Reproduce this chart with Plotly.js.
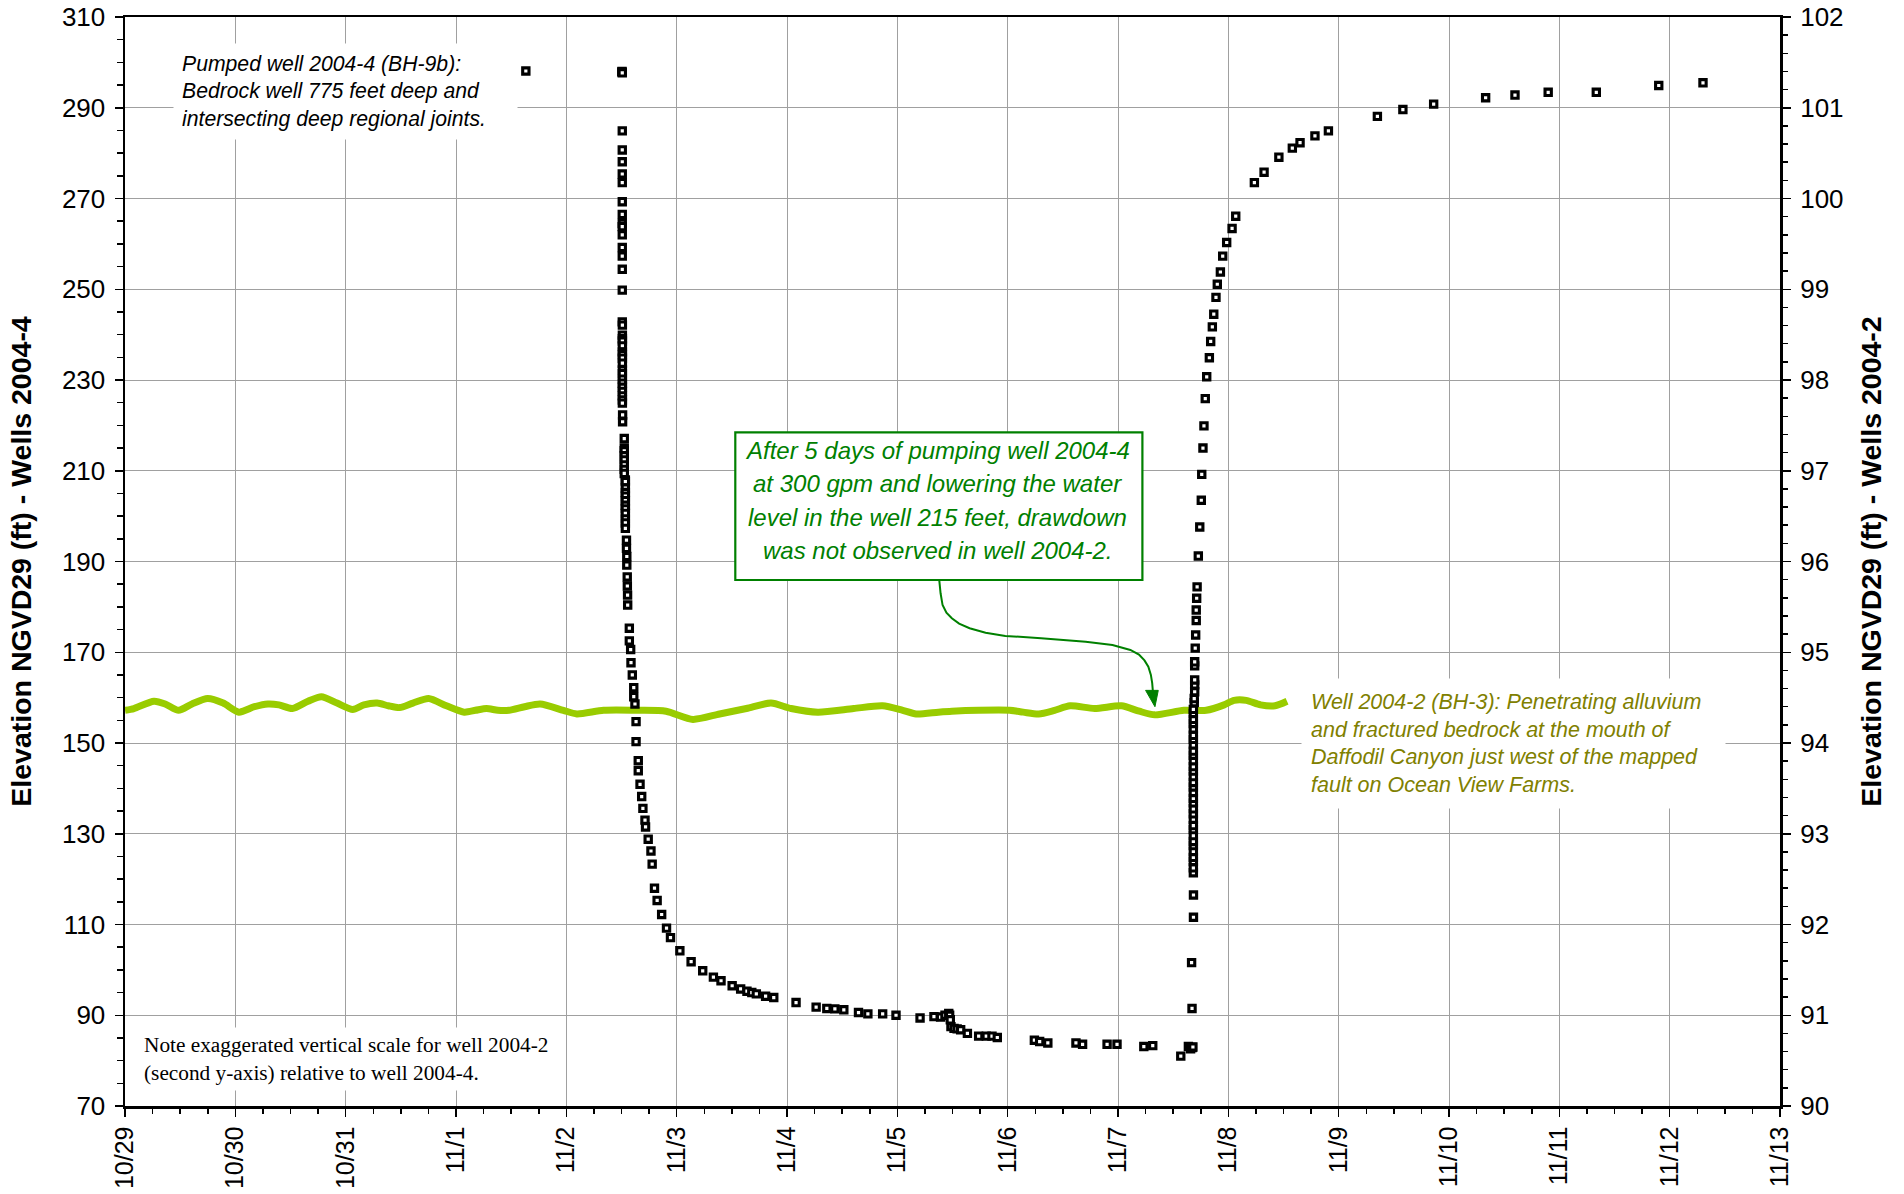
<!DOCTYPE html>
<html>
<head>
<meta charset="utf-8">
<script src="https://cdn.plot.ly/plotly-3.0.1.min.js"></script>
<style>
  html, body { margin: 0; padding: 0; background: #ffffff; }
  #chart { width: 1904px; height: 1194px; }
</style>
</head>
<body>
<div id="chart"></div>
<script>
// Time axis: days elapsed since 10/29 00:00
const dayTicks  = [0, 1, 2, 3, 4, 5, 6, 7, 8, 9, 10, 11, 12, 13, 14, 15];
const dayLabels = ['10/29', '10/30', '10/31', '11/1', '11/2', '11/3', '11/4', '11/5',
                   '11/6', '11/7', '11/8', '11/9', '11/10', '11/11', '11/12', '11/13'];

// Observation well 2004-2 (BH-3), water level elevation in ft NGVD29 (right axis)
const obsDay = [0.000, 0.081, 0.263, 0.364, 0.486, 0.607, 0.749, 0.890, 1.032, 1.173,
                1.295, 1.396, 1.517, 1.659, 1.780, 1.922, 2.064, 2.165, 2.286, 2.387,
                2.489, 2.610, 2.752, 2.913, 3.075, 3.176, 3.277, 3.379, 3.480, 3.622,
                3.763, 3.973, 4.095, 4.338, 4.661, 4.904, 5.147, 5.389, 5.632, 5.855,
                6.037, 6.280, 6.604, 6.866, 7.049, 7.170, 7.372, 7.494, 7.737, 8.019,
                8.141, 8.282, 8.425, 8.566, 8.788, 9.031, 9.193, 9.334, 9.597, 9.800,
                9.962, 10.052, 10.162, 10.292, 10.423, 10.532];
const obsElev = [94.36, 94.38, 94.46, 94.43, 94.36, 94.43, 94.49, 94.44, 94.34, 94.40,
                 94.43, 94.42, 94.38, 94.46, 94.51, 94.44, 94.37, 94.42, 94.44, 94.41,
                 94.39, 94.44, 94.49, 94.41, 94.34, 94.36, 94.38, 94.36, 94.36, 94.40,
                 94.43, 94.36, 94.32, 94.36, 94.36, 94.35, 94.26, 94.32, 94.38, 94.44,
                 94.38, 94.34, 94.38, 94.41, 94.36, 94.32, 94.34, 94.35, 94.36, 94.36,
                 94.34, 94.32, 94.36, 94.41, 94.38, 94.41, 94.35, 94.31, 94.36, 94.36,
                 94.42, 94.47, 94.47, 94.42, 94.41, 94.46];

// Pumped well 2004-4 (BH-9b), water level elevation in ft NGVD29 (left axis)
const pumpedDay = [
  3.633, 4.503, 4.505, 4.507, 4.507, 4.507, 4.507, 4.507, 4.507, 4.507,
  4.507, 4.507, 4.507, 4.507, 4.507, 4.507, 4.507, 4.507, 4.507, 4.508,
  4.508, 4.508, 4.508, 4.508, 4.508, 4.508, 4.508, 4.508, 4.508, 4.508,
  4.508, 4.508, 4.508, 4.508, 4.508, 4.508, 4.508, 4.510, 4.510, 4.525,
  4.525, 4.525, 4.525, 4.525, 4.525, 4.525, 4.525, 4.535, 4.535, 4.535,
  4.535, 4.535, 4.535, 4.535, 4.535, 4.535, 4.535, 4.535, 4.535, 4.545,
  4.545, 4.548, 4.548, 4.552, 4.553, 4.555, 4.556, 4.571, 4.571, 4.583,
  4.586, 4.598, 4.611, 4.611, 4.622, 4.632, 4.632, 4.652, 4.652, 4.668,
  4.683, 4.694, 4.713, 4.718, 4.742, 4.767, 4.778, 4.799, 4.823, 4.864,
  4.908, 4.944, 5.029, 5.131, 5.236, 5.333, 5.402, 5.503, 5.580, 5.637,
  5.681, 5.722, 5.806, 5.880, 6.082, 6.264, 6.361, 6.434, 6.515, 6.648,
  6.733, 6.867, 6.988, 7.206, 7.332, 7.392, 7.432, 7.466, 7.474, 7.480,
  7.486, 7.514, 7.542, 7.574, 7.635, 7.737, 7.806, 7.858, 7.906, 8.242,
  8.290, 8.364, 8.619, 8.679, 8.901, 8.991, 9.234, 9.315, 9.569, 9.638,
  9.658, 9.672, 9.679, 9.671, 9.667, 9.684, 9.684, 9.683, 9.683, 9.683,
  9.683, 9.683, 9.683, 9.683, 9.683, 9.683, 9.683, 9.683, 9.683, 9.683,
  9.683, 9.683, 9.683, 9.683, 9.683, 9.683, 9.683, 9.683, 9.683, 9.683,
  9.683, 9.683, 9.683, 9.683, 9.683, 9.683, 9.683, 9.683, 9.683, 9.691,
  9.691, 9.695, 9.695, 9.695, 9.695, 9.695, 9.700, 9.704, 9.709, 9.709,
  9.713, 9.717, 9.728, 9.741, 9.755, 9.759, 9.770, 9.779, 9.791, 9.804,
  9.828, 9.840, 9.855, 9.868, 9.888, 9.900, 9.928, 9.949, 9.985, 10.034,
  10.067, 10.236, 10.324, 10.458, 10.580, 10.650, 10.785, 10.907, 11.351, 11.582,
  11.861, 12.332, 12.598, 12.899, 13.335, 13.901, 14.302
];
const pumpedElev = [
  298.1, 297.9, 298.0, 297.7, 284.9, 280.7, 278.1, 275.4, 273.5, 269.3,
  266.5, 264.5, 263.8, 262.0, 259.2, 257.3, 254.4, 249.8, 242.8, 242.1,
  239.9, 239.1, 238.6, 237.5, 236.2, 235.6, 234.8, 233.7, 232.2, 231.4,
  230.2, 229.3, 228.4, 227.5, 226.5, 225.6, 224.9, 222.3, 220.8, 217.1,
  215.0, 214.4, 213.3, 212.4, 211.3, 210.3, 209.4, 208.0, 207.6, 206.2,
  205.2, 204.4, 203.4, 202.4, 201.6, 200.6, 199.4, 198.5, 197.3, 194.7,
  192.9, 191.1, 189.2, 186.6, 184.6, 182.6, 180.4, 175.3, 172.5, 170.6,
  167.7, 165.0, 162.2, 160.2, 158.6, 154.7, 150.3, 146.1, 143.9, 140.9,
  138.2, 135.6, 133.0, 131.5, 128.8, 126.2, 123.3, 118.0, 115.3, 112.2,
  109.2, 107.1, 104.2, 101.8, 99.8, 98.4, 97.6, 96.5, 95.8, 95.3,
  95.0, 94.7, 94.2, 93.9, 92.8, 91.8, 91.5, 91.4, 91.2, 90.6,
  90.3, 90.3, 90.0, 89.4, 89.7, 89.6, 90.0, 90.4, 90.0, 89.0,
  87.5, 87.1, 87.0, 86.8, 86.0, 85.4, 85.4, 85.4, 85.1, 84.5,
  84.2, 83.9, 83.9, 83.6, 83.6, 83.6, 83.1, 83.3, 81.0, 83.1,
  82.6, 82.9, 83.0, 91.5, 101.6, 111.6, 116.5, 121.4, 122.5, 123.9,
  124.8, 126.1, 127.4, 128.3, 129.6, 130.9, 131.8, 133.2, 134.4, 135.5,
  136.8, 137.8, 139.1, 140.3, 141.3, 142.6, 143.8, 144.8, 146.1, 147.3,
  148.2, 149.6, 150.8, 151.7, 153.1, 154.3, 155.2, 156.5, 157.4, 158.9,
  159.8, 161.3, 162.8, 163.9, 167.0, 167.9, 170.9, 173.8, 177.0, 179.3,
  181.9, 184.4, 191.2, 197.6, 203.5, 209.2, 215.0, 219.9, 225.9, 230.7,
  234.9, 238.5, 241.7, 244.5, 248.2, 251.1, 253.8, 257.3, 260.3, 263.4,
  266.1, 273.5, 275.8, 279.1, 281.1, 282.3, 283.8, 284.9, 288.1, 289.6,
  290.8, 292.2, 292.8, 293.4, 293.4, 294.9, 295.5
];

// Text blocks
const pumpedNote = ['Pumped well 2004-4 (BH-9b):', 'Bedrock well 775 feet deep and',
                    'intersecting deep regional joints.'];
const observedNote = ['Well 2004-2 (BH-3): Penetrating alluvium', 'and fractured bedrock at the mouth of',
                      'Daffodil Canyon just west of the mapped', 'fault on Ocean View Farms.'];
const scaleNote = ['Note exaggerated vertical scale for well 2004-2',
                   '(second y-axis) relative to well 2004-4.'];
const calloutLines = ['After 5 days of pumping well 2004-4', 'at 300 gpm and lowering the water',
                      'level in the well 215 feet, drawdown', 'was not observed in well 2004-2.'];

// Plot frame in pixels, used to place the notes
const plotLeft = 125, plotTop = 17, plotW = 1655, plotH = 1089;
const px = v => (v - plotLeft) / plotW;
const py = v => (plotTop + plotH - v) / plotH;

const SANS = 'Liberation Sans, Arial, sans-serif';
const SERIF = 'Liberation Serif, Times New Roman, serif';
const GRID = '#a0a0a0';
const CALLOUT = '#008000';
const OLIVE = '#808000';

const traces = [
  {
    x: obsDay, y: obsElev, xaxis: 'x', yaxis: 'y',
    type: 'scatter', mode: 'lines', name: 'Well 2004-2',
    line: { color: '#99cc00', width: 7, shape: 'spline', smoothing: 0.7 },
    hoverinfo: 'skip'
  },
  {
    x: pumpedDay, y: pumpedElev, xaxis: 'x', yaxis: 'y2',
    type: 'scatter', mode: 'markers', name: 'Well 2004-4',
    marker: { symbol: 'square', size: 6.3, color: '#ffffff', line: { color: '#000000', width: 3.1 } },
    hoverinfo: 'skip'
  }
];

const tickBase = { ticks: 'outside', tickcolor: '#000', tickwidth: 1.5, showline: true,
                   linecolor: '#000', linewidth: 2.5, zeroline: false, automargin: false };

const layout = {
  width: 1904, height: 1194,
  margin: { l: 125, r: 124, t: 17, b: 88, pad: 0 },
  paper_bgcolor: '#ffffff', plot_bgcolor: '#ffffff',
  showlegend: false,
  font: { family: SANS, color: '#000', size: 24 },
  xaxis: Object.assign({}, tickBase, {
    range: [0, 15], tickmode: 'array', tickvals: dayTicks, ticktext: dayLabels,
    tickangle: -90, tickfont: { size: 25, family: SANS }, ticklen: 8,
    mirror: true, showgrid: true, gridcolor: GRID, gridwidth: 1,
    minor: { dtick: 0.25, ticks: 'outside', ticklen: 5.5, tickwidth: 1.5, tickcolor: '#000', showgrid: false }
  }),
  yaxis: Object.assign({}, tickBase, {
    side: 'right', range: [90, 102], tick0: 90, dtick: 1, ticklen: 8.5,
    tickfont: { size: 26, family: SANS }, ticklabelstandoff: 4,
    showgrid: true, gridcolor: GRID, gridwidth: 1,
    minor: { dtick: 0.2, ticks: 'outside', ticklen: 5.5, tickwidth: 1.5, tickcolor: '#000', showgrid: false },
    title: { text: 'Elevation NGVD29 (ft) - Wells 2004-2', standoff: 19,
             font: { size: 28.5, family: SANS, weight: 'bold', color: '#000' } }
  }),
  yaxis2: Object.assign({}, tickBase, {
    overlaying: 'y', side: 'left', range: [70, 310], tick0: 70, dtick: 20, ticklen: 8,
    tickfont: { size: 26, family: SANS }, ticklabelstandoff: 4,
    showgrid: false,
    minor: { dtick: 5, ticks: 'outside', ticklen: 5.5, tickwidth: 1.5, tickcolor: '#000', showgrid: false },
    title: { text: 'Elevation NGVD29 (ft) - Wells 2004-4', standoff: 22,
             font: { size: 28.5, family: SANS, weight: 'bold', color: '#000' } }
  }),
  shapes: [
    // callout frame
    { type: 'rect', xref: 'paper', yref: 'paper', layer: 'above',
      x0: px(735.3), x1: px(1142.4), y0: py(580), y1: py(432.3),
      line: { color: CALLOUT, width: 2.2 }, fillcolor: '#ffffff' },
    // curved leader from the callout to the observation trace (x in days, y in ft of well 2004-4)
    { type: 'path', xref: 'x', yref: 'y2', layer: 'above',
      path: 'M 7.380,185.9 L 7.392,183.0 L 7.410,180.4 L 7.445,178.7 L 7.494,177.5 L 7.560,176.3 ' +
            'L 7.655,175.3 L 7.800,174.3 L 7.979,173.6 L 8.303,173.1 L 8.707,172.3 L 8.950,171.6 ' +
            'L 9.112,170.5 L 9.190,169.5 L 9.240,168.2 L 9.275,166.8 L 9.298,165.0 L 9.310,163.2 L 9.316,161.4',
      line: { color: CALLOUT, width: 2 } },
    { type: 'path', xref: 'x', yref: 'y2', layer: 'above',
      path: 'M 9.250,161.6 L 9.365,161.6 L 9.335,158.0 Z',
      line: { color: CALLOUT, width: 1 }, fillcolor: CALLOUT }
  ],
  annotations: []
};

layout.annotations.push({
  xref: 'paper', yref: 'paper', x: px(173), y: py(43), xanchor: 'left', yanchor: 'top',
  text: pumpedNote.join('<br>'), showarrow: false, align: 'left', valign: 'middle',
  width: 327, height: 79, borderpad: 8, bgcolor: '#ffffff',
  font: { family: SANS, size: 21.2, style: 'italic', color: '#000' }
});
layout.annotations.push({
  xref: 'paper', yref: 'paper', x: px(1301), y: py(678), xanchor: 'left', yanchor: 'top',
  text: observedNote.join('<br>'), showarrow: false, align: 'left', valign: 'middle',
  width: 405, height: 111, borderpad: 9, bgcolor: '#ffffff',
  font: { family: SANS, size: 21.5, style: 'italic', color: OLIVE }
});
layout.annotations.push({
  xref: 'paper', yref: 'paper', x: px(140), y: py(1026.7), xanchor: 'left', yanchor: 'top',
  text: scaleNote.join('<br>'), showarrow: false, align: 'left', valign: 'middle',
  width: 410, height: 56, borderpad: 3, bgcolor: '#ffffff',
  font: { family: SERIF, size: 21.3, color: '#000' }
});
calloutLines.forEach((line, i) => {
  layout.annotations.push({
    xref: 'paper', yref: 'paper', x: px(937.5), y: py(450.7 + i * 33.3),
    xanchor: 'center', yanchor: 'middle', text: line, showarrow: false,
    font: { family: SANS, size: 24, style: 'italic', color: CALLOUT }
  });
});

Plotly.newPlot('chart', traces, layout, { displayModeBar: false, staticPlot: true });
</script>
</body>
</html>
